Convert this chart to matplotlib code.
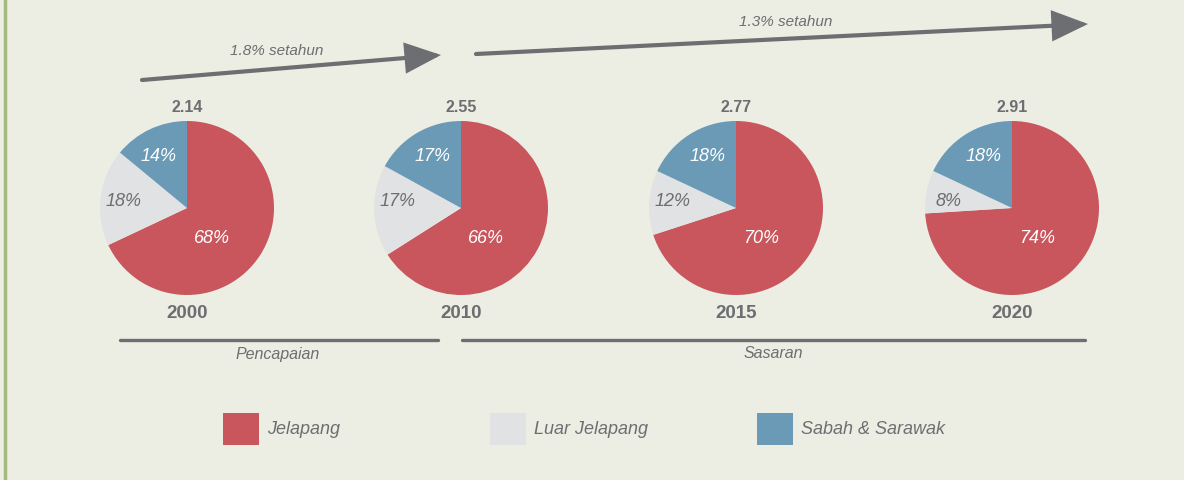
import matplotlib.pyplot as plt
from matplotlib.patches import FancyArrowPatch, Rectangle

years = ['2000', '2010', '2015', '2020']
totals = [2.14, 2.55, 2.77, 2.91]
jelapang = [68, 66, 70, 74]
luar_jelapang = [18, 17, 12, 8]
sabah_sarawak = [14, 17, 18, 18]
categories = ['Jelapang', 'Luar Jelapang', 'Sabah & Sarawak']
growth_labels = ['1.8% setahun', '1.3% setahun']
period_labels = ['Pencapaian', 'Sasaran']

colors = ['#C9565D', '#E1E2E4', '#6A9AB5']
pct_colors = ['white', '#6D6E71', 'white']
grey = '#6D6E71'
bg = '#ECEEE3'

W, H = 1184, 480
plt.rcParams['font.family'] = ['Liberation Sans Narrow', 'Liberation Sans', 'DejaVu Sans']

fig = plt.figure(figsize=(W / 100, H / 100), dpi=100, facecolor=bg)
ax = fig.add_axes([0, 0, 1, 1])
ax.set_facecolor(bg)


def py(y):
    # pixel row (from top) -> data y
    return H - y


pie_x = [187, 461, 736, 1012]
pie_y = py(208)
radius = 87
# label offsets (fraction of radius) for each category
label_off = [(0.29, -0.35), (-0.73, 0.07), (-0.33, 0.59)]

for i, yr in enumerate(years):
    shares = [jelapang[i], luar_jelapang[i], sabah_sarawak[i]]
    cx = pie_x[i]
    ax.pie(shares, colors=colors, startangle=90, counterclock=False,
           center=(cx, pie_y), radius=radius,
           wedgeprops=dict(linewidth=0))
    for k, v in enumerate(shares):
        dx, dy = label_off[k]
        ax.text(cx + dx * radius, pie_y + dy * radius, f'{v}%',
                color=pct_colors[k], fontsize=13, style='italic',
                ha='center', va='center')
    ax.text(cx, py(108), f'{totals[i]:.2f}', color=grey, fontsize=11.5,
            fontweight='bold', ha='center', va='center')
    ax.text(cx, py(313), yr, color=grey, fontsize=13.5,
            fontweight='bold', ha='center', va='center')

# growth arrows
arrows = [((142, 80), (441, 55), (277, 51)),
          ((476, 54), (1088, 24), (786, 22))]
for (start, tip, lab), txt in zip(arrows, growth_labels):
    arr = FancyArrowPatch((start[0], py(start[1])), (tip[0], py(tip[1])),
                          arrowstyle='-|>,head_length=1.05,head_width=0.45',
                          mutation_scale=20, lw=3.0, color=grey,
                          shrinkA=0, shrinkB=0, joinstyle='miter')
    ax.add_patch(arr)
    ax.text(lab[0], py(lab[1]), txt, color=grey, fontsize=11,
            style='italic', ha='center', va='center')

# period brackets
periods = [(120, 438, 278), (462, 1085, 773)]
for (x0, x1, xt), txt in zip(periods, period_labels):
    ax.plot([x0, x1], [py(340), py(340)], color=grey, lw=2.4,
            solid_capstyle='round')
    ax.text(xt, py(354), txt, color=grey, fontsize=11.5, style='italic',
            ha='center', va='center')

# legend
leg_x = [223, 490, 757]
for x, c, name in zip(leg_x, colors, categories):
    ax.add_patch(Rectangle((x, py(445)), 36, 32, color=c, lw=0))
    ax.text(x + 44, py(430), name, color=grey, fontsize=13, style='italic',
            ha='left', va='center')

# left border
ax.plot([5, 5], [0, H], color='#A6BA7E', lw=2.5)

ax.set_xlim(0, W)
ax.set_ylim(0, H)
ax.set_aspect('auto')
ax.set_axis_off()

fig.savefig('out.png', dpi=100, facecolor=bg)
